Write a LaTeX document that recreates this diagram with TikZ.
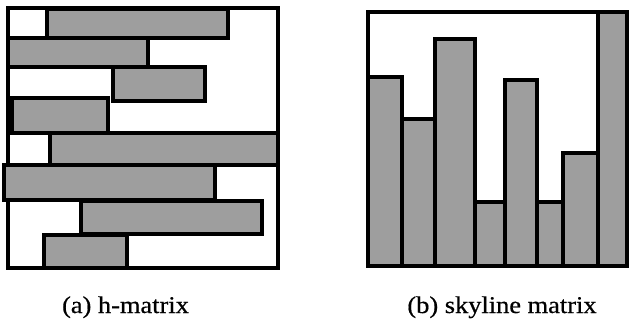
\documentclass[tikz,border=0pt]{standalone}
\usepackage{fontspec}
\newfontfamily\capfont[FakeStretch=1.1,FakeBold=0.6]{Liberation Serif}
\begin{document}
\begin{tikzpicture}[x=1pt,y=-1pt,
  frame/.style={draw=black,line width=3.2pt,fill=white},
  bar/.style={draw=black,line width=4pt,fill=black!38},
  captext/.style={font=\capfont\fontsize{24}{28}\selectfont,anchor=base,inner sep=0pt}]
\useasboundingbox (0,0) rectangle (629,327);
% (a) h-matrix
\draw[frame] (8,8) rectangle (278,268);
\draw[bar] (47,9) rectangle (228,38);
\draw[bar] (8,38) rectangle (148,67);
\draw[bar] (113,67) rectangle (205,101);
\draw[bar] (12,98) rectangle (108,133);
\draw[bar] (50,133) rectangle (278,165);
\draw[bar] (4,165) rectangle (215,200);
\draw[bar] (81,201) rectangle (262,234);
\draw[bar] (44,235) rectangle (127,268);
% (b) skyline matrix
\draw[frame] (368,12) rectangle (627,266);
\draw[bar] (368,266) rectangle (402,77);
\draw[bar] (402,266) rectangle (435,119);
\draw[bar] (435,266) rectangle (475,39);
\draw[bar] (475,266) rectangle (505,202);
\draw[bar] (505,266) rectangle (537,80);
\draw[bar] (537,266) rectangle (563,202);
\draw[bar] (563,266) rectangle (598,153);
\draw[bar] (598,266) rectangle (627,12);
% captions
\node[captext] (capa) at (125.5,313) {(a) h-matrix};
\node[captext] (capb) at (502,313) {(b) skyline matrix};
\end{tikzpicture}
\end{document}
